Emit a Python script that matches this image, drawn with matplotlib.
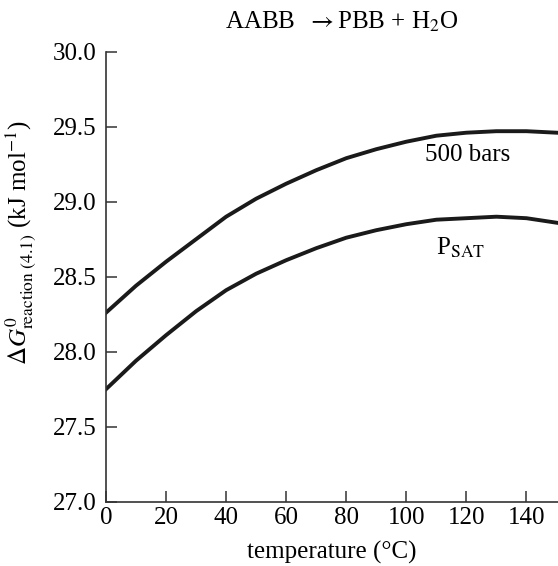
import matplotlib
matplotlib.use('Agg')
import matplotlib.pyplot as plt

plt.rcParams['font.family'] = ['Liberation Serif', 'DejaVu Serif']
plt.rcParams['mathtext.fontset'] = 'stix'
plt.rcParams['font.size'] = 18

# temperature (deg C) and Gibbs energy of reaction (kJ/mol)
temps = [0, 10, 20, 30, 40, 50, 60, 70, 80, 90, 100, 110, 120, 130, 140, 150]
g_500bar = [28.26, 28.44, 28.60, 28.75, 28.90, 29.02, 29.12, 29.21, 29.29, 29.35,
            29.40, 29.44, 29.46, 29.47, 29.47, 29.46]
g_psat = [27.75, 27.94, 28.11, 28.27, 28.41, 28.52, 28.61, 28.69, 28.76, 28.81,
          28.85, 28.88, 28.89, 28.90, 28.89, 28.86]

xticks = [0, 20, 40, 60, 80, 100, 120, 140]
yticks = [27.0, 27.5, 28.0, 28.5, 29.0, 29.5, 30.0]

fig = plt.figure(figsize=(5.58, 5.66), dpi=100)
ax = fig.add_axes([106 / 558, 1 - 501.7 / 566, 452 / 558, 450 / 566])

ax.plot(temps, g_500bar, color='#1a1a1a', lw=2.8, solid_joinstyle='round')
ax.plot(temps, g_psat, color='#1a1a1a', lw=2.8, solid_joinstyle='round')

ax.set_xlim(0, 150.5)
ax.set_ylim(27.0, 30.0)
ax.set_xticks(xticks)
ax.set_yticks(yticks)
ax.set_yticklabels([f'{v:.1f}' for v in yticks])

for side in ['top', 'right']:
    ax.spines[side].set_visible(False)
for side in ['left', 'bottom']:
    ax.spines[side].set_linewidth(1.2)
    ax.spines[side].set_color('#333333')

ax.tick_params(axis='both', direction='in', length=8, width=1.1, color='#333333')
ax.tick_params(axis='x', pad=4)
ax.tick_params(axis='y', pad=7)

ax.text(120.3, 29.31, '500 bars', ha='center', va='center')
ax.text(118, 28.69, r'P$_{\mathrm{SAT}}$', ha='center', va='center')

fig.text(342 / 558, 1 - 22 / 566, r'AABB  $\rightarrow$PBB + H$_2$O', ha='center', va='center')
fig.text(332 / 558, 1 - 552 / 566, 'temperature (°C)', ha='center', va='center')
fig.text(21 / 558, 1 - 243 / 566,
         r'$\Delta G^{0}_{\mathrm{reaction\ (4.1)}}$ (kJ mol$^{-1}$)',
         ha='center', va='center', rotation=90)

fig.savefig('out.png', dpi=100)
